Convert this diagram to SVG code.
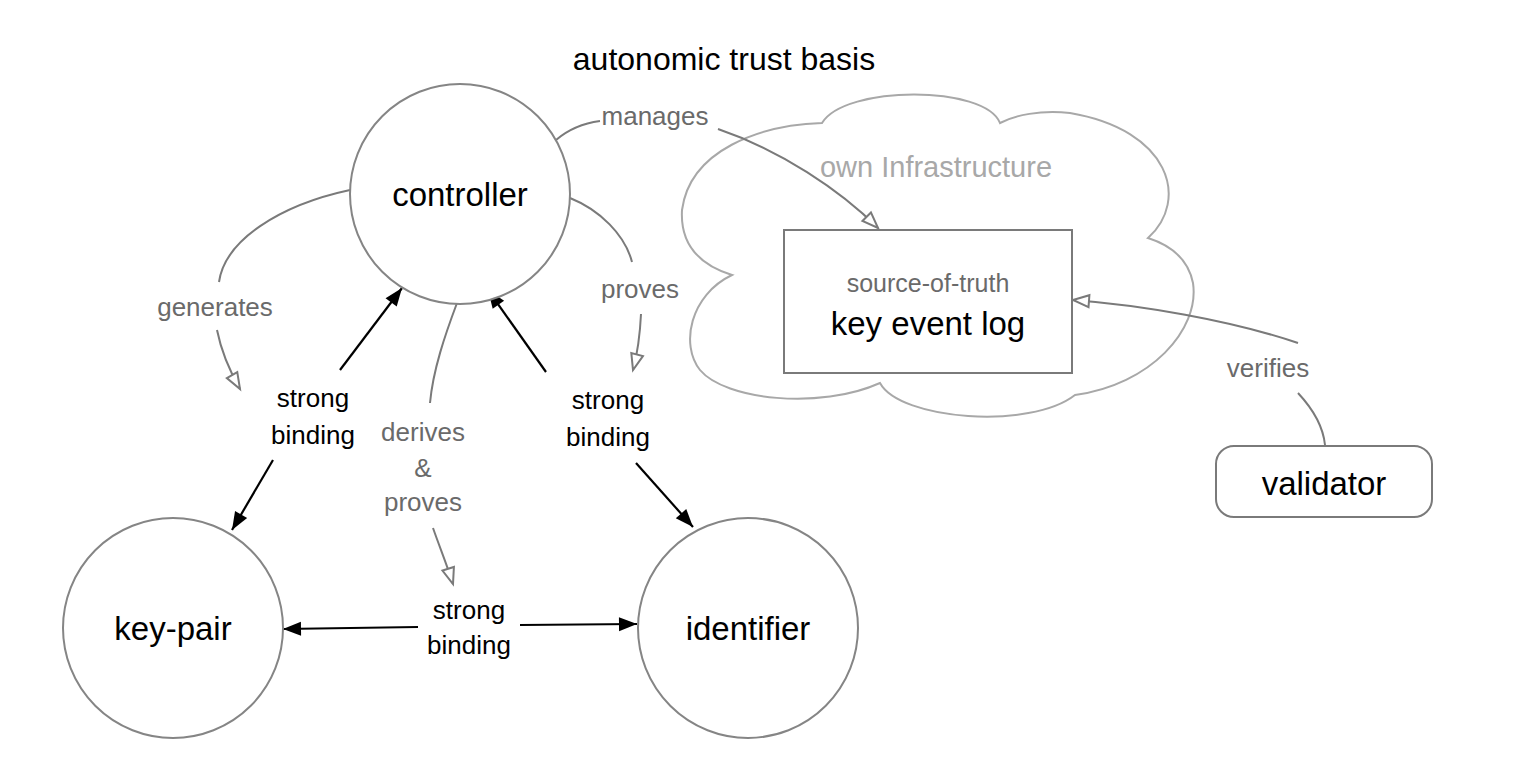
<svg xmlns="http://www.w3.org/2000/svg" width="1518" height="766" viewBox="0 0 1518 766">
<style>
text{font-family:"Liberation Sans",Arial,sans-serif;text-anchor:middle}
.node{fill:#fff;stroke:#858585;stroke-width:2}
.big{font-size:33px;fill:#000}
.lbl{font-size:26px;fill:#6a6a6a}
.sb{font-size:26px;fill:#000}
.g{fill:none;stroke:#7a7a7a;stroke-width:2}
.b{fill:none;stroke:#000;stroke-width:2.2}
</style>
<defs>
<marker id="open" markerUnits="userSpaceOnUse" markerWidth="22" markerHeight="18" refX="18" refY="8" orient="auto"><path d="M2,2 L18,8 L2,14 Z" fill="#fff" stroke="#7a7a7a" stroke-width="2"/></marker>
<marker id="fill" markerUnits="userSpaceOnUse" markerWidth="22" markerHeight="18" refX="19" refY="8" orient="auto"><path d="M1,1 L19,8 L1,15 Z" fill="#000"/></marker>
</defs>
<rect width="1518" height="766" fill="#fff"/>
<text x="724" y="70" style="font-size:32px;fill:#000">autonomic trust basis</text>

<g id="cloud">
<path d="M732,275 C690,295 680,345 700,370 C725,400 820,410 880,383 C900,420 1030,430 1075,395 C1150,385 1200,330 1193,283 C1188,258 1170,245 1148,238 C1190,200 1170,130 1070,113 C1040,110 1015,115 1000,123 C985,85 845,85 822,123 C760,125 690,150 682,210 C680,245 700,265 732,275 Z" fill="#fff" stroke="#a8a8a8" stroke-width="2"/>
<text x="936" y="177" style="font-size:29px;fill:#a8a8a8">own Infrastructure</text>
</g>

<g id="connectors">
<path class="g" d="M556,140 C570,128 585,123 600,121"/>
<path class="g" d="M718,129 C780,150 840,190 878,228" marker-end="url(#open)"/>
<path class="g" d="M350,190 C280,205 225,240 219,282"/>
<path class="g" d="M217,330 C222,355 232,375 240,389" marker-end="url(#open)"/>
<path class="g" d="M570,198 C600,210 625,235 632,262"/>
<path class="g" d="M641,314 C640,335 637,355 633,370" marker-end="url(#open)"/>
<path class="g" d="M457,303 C445,335 433,370 430,403"/>
<path class="g" d="M433,528 C440,548 447,565 453,584" marker-end="url(#open)"/>
<path class="g" d="M1298,343 C1230,320 1140,305 1073,300" marker-end="url(#open)"/>
<path class="g" d="M1298,393 C1312,408 1323,425 1325,445"/>
<path class="b" d="M340,370 L402,288" marker-end="url(#fill)"/>
<path class="b" d="M273,460 L232,530" marker-end="url(#fill)"/>
<path class="b" d="M546,372 L488,290" marker-end="url(#fill)"/>
<path class="b" d="M636,463 L693,527" marker-end="url(#fill)"/>
<path class="b" d="M418,627 L283,629" marker-end="url(#fill)"/>
<path class="b" d="M520,625 L637,624" marker-end="url(#fill)"/>
<text class="lbl" x="655" y="125">manages</text>
<text class="lbl" x="215" y="316">generates</text>
<text class="lbl" x="640" y="298">proves</text>
<text class="lbl" x="423" y="441">derives</text>
<text class="lbl" x="423" y="477">&amp;</text>
<text class="lbl" x="423" y="511">proves</text>
<text class="lbl" x="1268" y="377">verifies</text>
<text class="sb" x="313" y="407">strong</text>
<text class="sb" x="313" y="444">binding</text>
<text class="sb" x="608" y="409">strong</text>
<text class="sb" x="608" y="446">binding</text>
<text class="sb" x="469" y="619">strong</text>
<text class="sb" x="469" y="654">binding</text>
</g>

<g id="controller"><circle class="node" cx="460" cy="194" r="110"/><text class="big" x="460" y="206">controller</text></g>
<g id="key-pair"><circle class="node" cx="173" cy="628" r="110"/><text class="big" x="173" y="640">key-pair</text></g>
<g id="identifier"><circle class="node" cx="748" cy="628" r="110"/><text class="big" x="748" y="640">identifier</text></g>
<g id="kel"><rect x="784" y="230" width="288" height="143" fill="#fff" stroke="#7a7a7a" stroke-width="2"/><text x="928" y="292" style="font-size:25px;fill:#6a6a6a">source-of-truth</text><text class="big" x="928" y="335">key event log</text></g>
<g id="validator"><rect x="1216" y="446" width="216" height="71" rx="18" fill="#fff" stroke="#7a7a7a" stroke-width="2"/><text class="big" x="1324" y="495">validator</text></g>
</svg>
